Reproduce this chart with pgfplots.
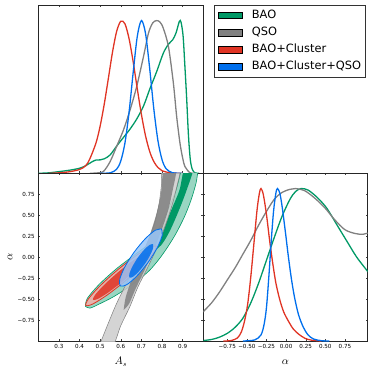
\documentclass[border=0pt]{standalone}
\usepackage{fontspec}
\setmainfont{DejaVu Sans}
\usepackage{pgfplots}
\pgfplotsset{compat=1.18}

\definecolor{cgreen}{HTML}{009966}
\definecolor{cgreenl}{HTML}{99D6C2}
\definecolor{cgray}{HTML}{808080}
\definecolor{cgrayl}{HTML}{CCCCCC}
\definecolor{cred}{HTML}{E03424}
\definecolor{credl}{HTML}{F3AEA7}
\definecolor{cblue}{HTML}{006FED}
\definecolor{cbluel}{HTML}{99C5F8}

\pgfplotsset{
  panel/.style={scale only axis, anchor=south west,
    axis line style={black!85, line width=0.7pt},
    tick align=inside, major tick length=2pt,
    tick style={black!75, line width=0.4pt},
    ticklabel style={font=\fontsize{5.6}{6}\selectfont},
  },
  curve/.style={line width=1.3pt, smooth, forget plot},
}

\begin{document}
\begin{tikzpicture}
\path[use as bounding box] (0pt,0pt) rectangle (374pt,373pt);

% ---- A_s marginal (top left) + legend
\begin{axis}[panel, at={(38.3pt,199.7pt)}, width=165pt, height=168pt,
  xmin=0.2, xmax=1.0, ymin=0, ymax=1.1,
  xtick={0.3,0.4,0.5,0.6,0.7,0.8,0.9}, xticklabels={}, ytick=\empty,
  legend image code/.code={\fill[#1] (0pt,-3.4pt) rectangle (24pt,3.4pt);},
  legend cell align=left,
  legend style={at={(1.065,1.002)}, anchor=north west, draw=black!80,
    line width=0.6pt, font=\fontsize{11.4}{13}\selectfont,
    row sep=6.2pt, column sep=9pt, inner xsep=4pt, inner ysep=4.6pt,
    nodes={inner sep=0pt, text height=8.4pt, text depth=2.6pt}},
]
\addlegendimage{fill=cgreen}\addlegendentry{BAO}
\addlegendimage{fill=cgray}\addlegendentry{QSO}
\addlegendimage{fill=cred}\addlegendentry{BAO+Cluster}
\addlegendimage{fill=cblue}\addlegendentry{BAO+Cluster+QSO}

\addplot[curve, cgreen] coordinates {
 (0.20,0) (0.25,0.003) (0.30,0.011) (0.35,0.02) (0.40,0.033) (0.43,0.05)
 (0.46,0.075) (0.48,0.087) (0.50,0.088) (0.52,0.095) (0.548,0.12)
 (0.581,0.18) (0.613,0.235) (0.645,0.29) (0.677,0.355) (0.710,0.44)
 (0.742,0.557) (0.774,0.666) (0.806,0.786) (0.831,0.845) (0.852,0.875)
 (0.868,0.92) (0.884,0.995) (0.892,0.99) (0.902,0.90) (0.910,0.72)
 (0.919,0.50) (0.928,0.25) (0.937,0.09) (0.947,0.025) (0.96,0.003) (0.98,0)};
\addplot[curve, cgray] coordinates {
 (0.45,0) (0.49,0.003) (0.516,0.012) (0.548,0.076) (0.581,0.18)
 (0.613,0.284) (0.645,0.415) (0.677,0.568) (0.710,0.764) (0.734,0.917)
 (0.755,0.985) (0.774,1.0) (0.790,0.99) (0.806,0.95) (0.831,0.83)
 (0.855,0.59) (0.871,0.37) (0.887,0.197) (0.90,0.10) (0.911,0.044)
 (0.935,0.004) (0.96,0)};
\addplot[curve, cred] coordinates {
 (0.25,0) (0.30,0.003) (0.35,0.01) (0.40,0.025) (0.43,0.05) (0.45,0.095)
 (0.48,0.20) (0.50,0.31) (0.52,0.455) (0.54,0.624) (0.56,0.795) (0.58,0.930)
 (0.60,0.996) (0.62,0.979) (0.64,0.882) (0.66,0.730) (0.68,0.553)
 (0.70,0.385) (0.72,0.245) (0.74,0.143) (0.76,0.077) (0.78,0.038)
 (0.80,0.017) (0.84,0.003) (0.90,0)};
\addplot[curve, cblue] coordinates {
 (0.50,0) (0.55,0.0036) (0.58,0.027) (0.60,0.081) (0.62,0.198) (0.64,0.399)
 (0.66,0.660) (0.68,0.897) (0.70,1.0) (0.72,0.915) (0.74,0.687)
 (0.76,0.423) (0.78,0.214) (0.80,0.089) (0.82,0.030) (0.85,0.004) (0.90,0)};
\end{axis}

% ---- 2D contours (bottom left)
\begin{axis}[panel, at={(38.3pt,32pt)}, width=165pt, height=167.7pt,
  xmin=0.2, xmax=1.0, ymin=-1, ymax=1,
  xtick={0.3,0.4,0.5,0.6,0.7,0.8,0.9},
  xticklabels={0.3,0.4,0.5,0.6,0.7,0.8,0.9},
  ytick={-0.75,-0.5,-0.25,0,0.25,0.5,0.75},
  yticklabels={−0.75,−0.50,−0.25,0.00,0.25,0.50,0.75},
  xlabel={$A_s$}, ylabel={$\alpha$},
  xlabel style={at={(axis description cs:0.5,-0.125)}, anchor=center,
    font=\fontsize{10.5}{12}\selectfont},
  ylabel style={at={(axis description cs:-0.172,0.5)}, anchor=center,
    font=\fontsize{10.5}{12}\selectfont},
]
% BAO
\addplot[fill=cgreenl, draw=cgreen, line width=0.6pt, smooth] coordinates {
 (0.428,-0.585) (0.438,-0.49) (0.495,-0.325) (0.578,-0.14) (0.668,0.03)
 (0.740,0.17) (0.796,0.40) (0.836,0.604) (0.868,0.804) (0.889,1.004)
 (0.893,1.06) (0.982,1.06) (0.973,1.004) (0.965,0.884) (0.941,0.684)
 (0.909,0.484) (0.868,0.284) (0.828,0.124) (0.788,-0.016) (0.740,-0.156)
 (0.683,-0.276) (0.627,-0.376) (0.562,-0.476) (0.498,-0.556) (0.450,-0.608)
 (0.428,-0.585)} -- cycle;
\addplot[fill=cgreen, draw=none, smooth] coordinates {
 (0.748,0.052) (0.740,0.084) (0.780,0.224) (0.817,0.404) (0.852,0.604)
 (0.885,0.804) (0.909,1.06) (0.952,1.06) (0.914,0.764) (0.876,0.524)
 (0.836,0.304) (0.796,0.144) (0.748,0.052)} -- cycle;
% QSO
\addplot[fill=cgrayl, fill opacity=0.85, draw=cgray, line width=0.5pt, smooth] coordinates {
 (0.495,-1.06) (0.538,-0.796) (0.579,-0.556) (0.627,-0.316) (0.675,-0.096)
 (0.724,0.144) (0.764,0.404) (0.786,0.644) (0.798,0.884) (0.802,1.06)
 (0.885,1.06) (0.872,0.844) (0.849,0.624) (0.817,0.384) (0.777,0.124)
 (0.732,-0.116) (0.683,-0.356) (0.643,-0.596) (0.600,-0.816) (0.560,-1.06)
 (0.495,-1.06)} -- cycle;
\addplot[fill=cgray, fill opacity=0.85, draw=none, smooth] coordinates {
 (0.614,-0.628) (0.624,-0.476) (0.651,-0.276) (0.688,-0.056) (0.732,0.204)
 (0.769,0.484) (0.794,0.744) (0.810,1.06) (0.868,1.06) (0.852,0.804)
 (0.830,0.564) (0.798,0.324) (0.759,0.084) (0.715,-0.156) (0.672,-0.376)
 (0.640,-0.556) (0.614,-0.628)} -- cycle;
% BAO+Cluster
\addplot[fill=credl, fill opacity=0.85, draw=cred, line width=0.8pt, smooth] coordinates {
 (0.7718,0.132) (0.7592,0.0536) (0.7043,-0.0984) (0.6217,-0.2836)
 (0.5336,-0.452) (0.4636,-0.5592) (0.4304,-0.576) (0.4429,-0.4976)
 (0.4979,-0.3456) (0.5805,-0.1604) (0.6685,0.008) (0.7386,0.1152)
 (0.7718,0.132)} -- cycle;
\addplot[fill=cred, fill opacity=0.85, draw=none, smooth] coordinates {
 (0.7371,0.054) (0.7267,-0.0068) (0.6824,-0.1268) (0.6165,-0.274)
 (0.5465,-0.4092) (0.4909,-0.4956) (0.4650,-0.51) (0.4755,-0.4492)
 (0.5198,-0.3292) (0.5856,-0.182) (0.6557,-0.0468) (0.7112,0.0396)
 (0.7371,0.054)} -- cycle;
% BAO+Cluster+QSO
\addplot[fill=cbluel, fill opacity=0.85, draw=cblue, line width=0.8pt, smooth] coordinates {
 (0.7972,0.3352) (0.8008,0.2592) (0.7768,0.1124) (0.7315,-0.0652)
 (0.6772,-0.2268) (0.6285,-0.3288) (0.5982,-0.3432) (0.5946,-0.2672)
 (0.6186,-0.1208) (0.6639,0.0572) (0.7181,0.2184) (0.7670,0.3208)
 (0.7972,0.3352)} -- cycle;
\addplot[fill=cblue, fill opacity=0.85, draw=none, smooth] coordinates {
 (0.7557,0.156) (0.7573,0.1128) (0.7434,0.0284) (0.7178,-0.076)
 (0.6871,-0.1716) (0.6597,-0.2328) (0.6429,-0.244) (0.6413,-0.2008)
 (0.6552,-0.1164) (0.6808,-0.012) (0.7116,0.0836) (0.7389,0.1448)
 (0.7557,0.156)} -- cycle;
\end{axis}

% ---- alpha marginal (bottom right)
\begin{axis}[panel, at={(203.3pt,32pt)}, width=164.4pt, height=167.7pt,
  xmin=-1.055, xmax=1.04, ymin=0, ymax=1.1,
  xtick={-0.75,-0.5,-0.25,0,0.25,0.5,0.75},
  xticklabels={−0.75,−0.50,−0.25,0.00,0.25,0.50,0.75},
  ytick={0.1374,0.2749,0.4125,0.55,0.6876,0.8252,0.9627}, yticklabels={},
  xlabel={$\alpha$},
  xlabel style={at={(axis description cs:0.5,-0.125)}, anchor=center,
    font=\fontsize{10.5}{12}\selectfont},
]
\addplot[curve, cgreen] coordinates {
 (-1.06,0.003) (-0.95,0.01) (-0.85,0.025) (-0.75,0.05) (-0.65,0.09)
 (-0.55,0.15) (-0.45,0.25) (-0.35,0.38) (-0.25,0.53) (-0.15,0.68)
 (-0.05,0.82) (0.05,0.93) (0.12,0.98) (0.19,1.0) (0.28,0.99) (0.40,0.94)
 (0.52,0.87) (0.65,0.76) (0.78,0.65) (0.90,0.55) (1.05,0.45)};
\addplot[curve, cgray] coordinates {
 (-1.06,0.19) (-0.95,0.25) (-0.85,0.32) (-0.75,0.40) (-0.65,0.48)
 (-0.55,0.57) (-0.45,0.66) (-0.35,0.76) (-0.25,0.85) (-0.15,0.93)
 (-0.05,0.975) (0.05,0.995) (0.12,1.0) (0.24,0.985) (0.37,0.935)
 (0.50,0.87) (0.62,0.795) (0.75,0.73) (0.88,0.705) (0.98,0.70) (1.05,0.71)};
\addplot[curve, cred] coordinates {
 (-0.80,0) (-0.70,0.003) (-0.62,0.02) (-0.57,0.06) (-0.53,0.13)
 (-0.49,0.24) (-0.45,0.42) (-0.41,0.64) (-0.37,0.86) (-0.34,0.97)
 (-0.32,1.0) (-0.29,0.96) (-0.25,0.83) (-0.21,0.66) (-0.17,0.51)
 (-0.13,0.38) (-0.08,0.27) (-0.03,0.19) (0.03,0.13) (0.09,0.08)
 (0.16,0.045) (0.24,0.018) (0.32,0.006) (0.45,0)};
\addplot[curve, cblue] coordinates {
 (-0.55,0) (-0.40,0.007) (-0.32,0.04) (-0.28,0.11) (-0.25,0.22)
 (-0.22,0.42) (-0.19,0.65) (-0.16,0.85) (-0.13,0.97) (-0.11,1.0)
 (-0.08,0.97) (-0.05,0.88) (-0.01,0.72) (0.03,0.55) (0.07,0.40)
 (0.11,0.28) (0.16,0.17) (0.22,0.09) (0.28,0.04) (0.35,0.013)
 (0.45,0.002) (0.55,0)};
\end{axis}
\end{tikzpicture}
\end{document}
